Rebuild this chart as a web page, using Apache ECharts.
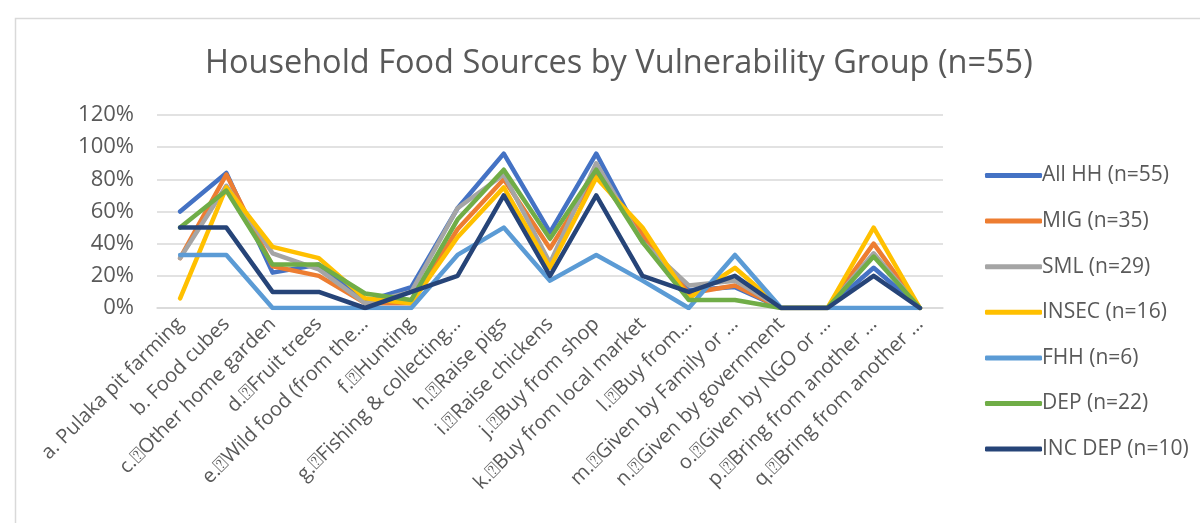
<!DOCTYPE html>
<html>
<head>
<meta charset="utf-8">
<title>Household Food Sources by Vulnerability Group</title>
<script src="https://cdn.jsdelivr.net/npm/echarts@6/dist/echarts.min.js"></script>
<style>
  html, body { margin: 0; padding: 0; background: #fff; }
  #chart { width: 1200px; height: 523px; }
</style>
</head>
<body>
<div id="chart"></div>
<script>
// Food source categories (labels as shortened on the axis)
const categories = [
  'a. Pulaka pit farming',
  'b. Food cubes',
  'c.\u2370Other home garden',
  'd.\u2370Fruit trees',
  'e.\u2370Wild food (from the\u2026',
  'f.\u2370Hunting',
  'g.\u2370Fishing & collecting\u2026',
  'h.\u2370Raise pigs',
  'i.\u2370Raise chickens',
  'j.\u2370Buy from shop',
  'k.\u2370Buy from local market',
  'l.\u2370Buy from\u2026',
  'm.\u2370Given by Family or \u2026',
  'n.\u2370Given by government',
  'o.\u2370Given by NGO or \u2026',
  'p.\u2370Bring from another \u2026',
  'q.\u2370Bring from another \u2026'
];

// Share of households using each source (%), per vulnerability group
const allHH  = [60, 84, 22, 27, 4, 13, 62, 96, 47, 96, 42, 11, 13, 0, 0, 25, 0];
const mig    = [31, 83, 26, 20, 3, 3, 49, 80, 37, 83, 46, 9, 14, 0, 0, 40, 0];
const sml    = [31, 76, 34, 24, 3, 10, 62, 83, 28, 90, 41, 14, 17, 0, 0, 34, 0];
const insec  = [6, 75, 38, 31, 6, 3, 44, 75, 25, 81, 50, 6, 25, 0, 0, 50, 0];
const fhh    = [33, 33, 0, 0, 0, 0, 33, 50, 17, 33, 17, 0, 33, 0, 0, 0, 0];
const dep    = [50, 73, 27, 27, 9, 5, 55, 86, 43, 86, 41, 5, 5, 0, 0, 32, 0];
const incDep = [50, 50, 10, 10, 0, 10, 20, 70, 20, 70, 20, 10, 20, 0, 0, 20, 0];

const seriesNames = [
  'All HH (n=55)', 'MIG (n=35)', 'SML (n=29)', 'INSEC (n=16)',
  'FHH (n=6)', 'DEP (n=22)', 'INC DEP (n=10)'
];
const seriesValues = [allHH, mig, sml, insec, fhh, dep, incDep];
const seriesColors = ['#4472C4', '#ED7D31', '#A5A5A5', '#FFC000', '#5B9BD5', '#70AD47', '#264478'];

// Value axis ticks
const yMin = 0, yMax = 120, yStep = 20;

const FONT = 'Open Sans';
const TEXT = '#595959';

const chart = echarts.init(document.getElementById('chart'), null, { renderer: 'canvas' });

chart.setOption({
  animation: false,
  backgroundColor: '#ffffff',
  textStyle: { fontFamily: FONT, color: TEXT },
  graphic: [{
    type: 'rect',
    left: 13, top: 16,
    shape: { width: 1200, height: 540 },
    style: { fill: 'none', stroke: '#d9d9d9', lineWidth: 1.5 },
    silent: true
  }],
  title: {
    text: 'Household Food Sources by Vulnerability Group (n=55)',
    left: 200,
    top: 42,
    textStyle: { fontFamily: FONT, fontSize: 32.5, fontWeight: 'normal', color: TEXT }
  },
  legend: {
    orient: 'vertical',
    left: 980,
    top: 160,
    icon: 'roundRect',
    itemWidth: 57,
    itemHeight: 5,
    itemGap: 24.6,
    textStyle: { fontFamily: FONT, fontSize: 21, lineHeight: 20, color: TEXT, padding: [0, 0, 0, -5] },
    data: seriesNames
  },
  grid: { left: 157, right: 257, top: 115, bottom: 215, containLabel: false },
  xAxis: {
    type: 'category',
    data: categories,
    boundaryGap: true,
    axisLine: { show: true, lineStyle: { color: '#d9d9d9', width: 1.5 } },
    axisTick: { show: false },
    axisLabel: {
      interval: 0,
      rotate: 45,
      margin: 13,
      fontFamily: FONT,
      fontSize: 20,
      color: TEXT
    }
  },
  yAxis: {
    type: 'value',
    min: yMin, max: yMax, interval: yStep,
    axisLine: { show: false },
    axisTick: { show: false },
    splitLine: { lineStyle: { color: '#d9d9d9', width: 1.5 } },
    axisLabel: {
      formatter: '{value}%',
      margin: 23,
      fontFamily: FONT,
      fontSize: 22,
      color: TEXT
    }
  },
  series: seriesNames.map((name, i) => ({
    name: name,
    type: 'line',
    data: seriesValues[i],
    symbol: 'none',
    color: seriesColors[i],
    lineStyle: { width: 4.5, color: seriesColors[i], cap: 'round', join: 'round' }
  }))
});
</script>
</body>
</html>
